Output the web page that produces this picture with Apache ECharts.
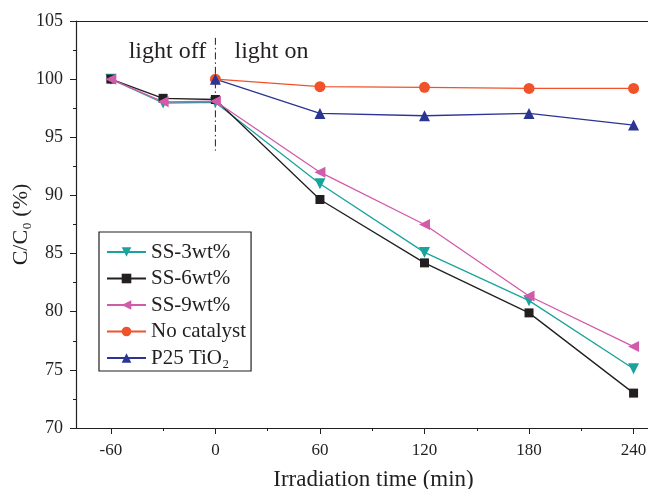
<!DOCTYPE html>
<html><head><meta charset="utf-8">
<script src="https://cdn.jsdelivr.net/npm/echarts@6/dist/echarts.min.js"></script>
<style>html,body{margin:0;padding:0;background:#fff}#c{width:648px;height:489px}</style>
</head><body><div id="c"></div>
<script>
var darkTimes = [-60, -30, 0, 60, 120, 180, 240];
var lightTimes = [0, 60, 120, 180, 240];
var ss3 = [100, 97.95, 98.0, 91.0, 85.1, 80.95, 75.1];
var ss6 = [100, 98.35, 98.25, 89.65, 84.2, 79.9, 73.0];
var ss9 = [100, 98.05, 98.1, 92.0, 87.5, 81.35, 77.0];
var noCat = [100, 99.35, 99.3, 99.2, 99.2];
var p25 = [100, 97.05, 96.85, 97.05, 96.05];
var xMajorTicks = [-60, 0, 60, 120, 180, 240];
var xMinorTicks = [-30, 30, 90, 150, 210];
var divideX = [0, 0];
var divideY = [103.55, 93.85];
var seriesNames = ['SS-3wt%', 'SS-6wt%', 'SS-9wt%', 'No catalyst', 'P25 TiO\u2082'];
var annotations = [{text: 'light off', x: -27.5, y: 102.35}, {text: 'light on', x: 32.2, y: 102.35}];

function pairs(xs, ys){ return xs.map(function(x,i){return [x, ys[i]];}); }
var font = 'Liberation Serif';
var ink = '#231f20';
var chart = echarts.init(document.getElementById('c'));
function ser(name, xs, ys, color, symbol, rot, size){
  return {name: name, type: 'line', data: pairs(xs, ys), symbol: symbol, symbolRotate: rot, symbolSize: size,
    lineStyle: {color: color, width: 1.3}, itemStyle: {color: color}, z: 3};
}
chart.setOption({
  animation: false,
  textStyle: {fontFamily: font},
  grid: {left: 76, top: 21, bottom: 61, right: -3, containLabel: false, outerBoundsMode: 'none'},
  legend: {
    orient: 'vertical', left: 99, top: 232,
    data: seriesNames,
    borderColor: ink, borderWidth: 1.2, borderRadius: 0,
    padding: [9, 5, 2, 7], itemWidth: 39, itemHeight: 12, itemGap: 4.5,
    textStyle: {fontFamily: font, fontSize: 21, lineHeight: 22, color: ink}
  },
  xAxis: [{
    type: 'value', min: -80, max: 250,
    name: 'Irradiation time (min)', nameLocation: 'middle', nameGap: 40, nameMoveOverlap: false,
    nameTextStyle: {fontFamily: font, fontSize: 23, color: ink, padding: [0, 0, 0, 20]},
    axisLine: {onZero: false, lineStyle: {color: ink, width: 1.2}},
    axisTick: {length: 6, customValues: xMajorTicks, lineStyle: {color: ink}},
    axisLabel: {fontFamily: font, fontSize: 17, color: ink, margin: 14, customValues: xMajorTicks},
    splitLine: {show: false}
  }, {
    type: 'value', position: 'bottom', min: -80, max: 250,
    axisLine: {show: false, onZero: false},
    axisTick: {length: 3, customValues: xMinorTicks, lineStyle: {color: ink}},
    axisLabel: {show: false}, splitLine: {show: false}
  }, {
    type: 'value', position: 'top', min: -80, max: 250,
    axisLine: {onZero: false, lineStyle: {color: ink, width: 1.2}},
    axisTick: {show: false}, axisLabel: {show: false}, splitLine: {show: false}
  }],
  yAxis: [{
    type: 'value', min: 70, max: 105, interval: 5,
    name: 'C/C\u2080 (%)', nameLocation: 'middle', nameGap: 44, nameMoveOverlap: false,
    nameTextStyle: {fontFamily: font, fontSize: 22, color: ink},
    axisLine: {show: true, onZero: false, lineStyle: {color: ink, width: 1.2}},
    axisTick: {show: true, length: 6, lineStyle: {color: ink}},
    minorTick: {show: true, splitNumber: 2, length: 3, lineStyle: {color: ink}},
    axisLabel: {fontFamily: font, fontSize: 18, color: ink, margin: 13},
    splitLine: {show: false}
  }, {
    type: 'value', position: 'right', min: 70, max: 105,
    axisLine: {show: true, onZero: false, lineStyle: {color: ink, width: 1.2}},
    axisTick: {show: false}, axisLabel: {show: false}, splitLine: {show: false}
  }],
  series: [
    ser(seriesNames[0], darkTimes, ss3, '#1aa39c', 'triangle', 180, 11),
    ser(seriesNames[1], darkTimes, ss6, '#231f20', 'rect', 0, 9),
    ser(seriesNames[2], darkTimes, ss9, '#d25aab', 'triangle', 90, 11),
    ser(seriesNames[3], lightTimes, noCat, '#f0522a', 'circle', 0, 11),
    ser(seriesNames[4], lightTimes, p25, '#2b3594', 'triangle', 0, 11),
    {type: 'line', data: pairs(divideX, divideY), symbol: 'none', silent: true,
      lineStyle: {color: ink, width: 1, type: [7, 3, 1.5, 3]}, z: 2},
    {type: 'scatter', symbolSize: 0, silent: true, itemStyle: {opacity: 1},
      data: annotations.map(function(a){return {value: [a.x, a.y], label: {show: true, formatter: a.text}};}),
      label: {position: 'inside', fontFamily: font, fontSize: 24, color: ink, opacity: 1}}
  ]
});
</script></body></html>
